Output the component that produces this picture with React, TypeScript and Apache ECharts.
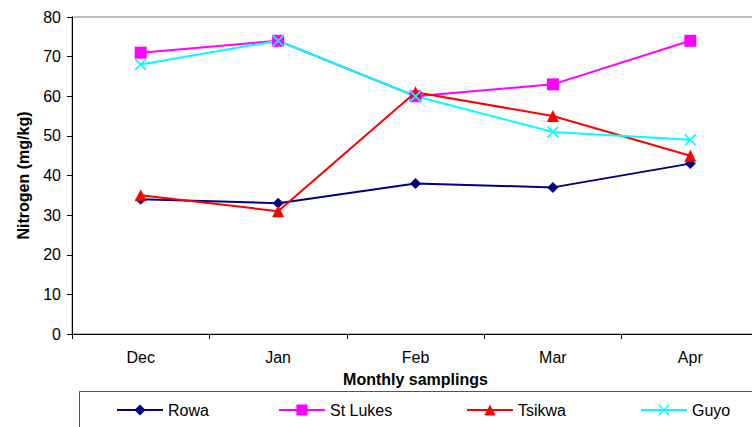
import React, { useEffect, useRef } from "react";
import * as echarts from "echarts";

const categories = ["Dec", "Jan", "Feb", "Mar", "Apr"];
const rowa = [34, 33, 38, 37, 43];
const stLukes = [71, 74, 60, 63, 74];
const tsikwa = [35, 31, 61, 55, 45];
const guyo = [68, 74, 60, 51, 49];
const yTicks = [0, 10, 20, 30, 40, 50, 60, 70, 80];

const FONT = "'Liberation Sans', Arial, sans-serif";
const X_SYMBOL = "path://M0,1 L1,0 L5,4 L9,0 L10,1 L6,5 L10,9 L9,10 L5,6 L1,10 L0,9 L4,5 Z";

export default function App() {
  const ref = useRef<HTMLDivElement>(null);
  useEffect(() => {
    document.body.style.margin = "0";
    const chart = echarts.init(ref.current!, null, { renderer: "svg" });
    const legendItem = (name: string, left: number) => ({
      data: [name],
      left,
      top: 402,
      itemWidth: 46,
      itemHeight: 14,
      itemGap: 4,
      textStyle: { fontFamily: FONT, fontSize: 16, color: "#000" },
      padding: 0,
    });
    chart.setOption({
      animation: false,
      textStyle: { fontFamily: FONT },
      grid: {
        left: 72,
        width: 687,
        top: 17,
        height: 317,
        outerBoundsMode: "none",
        containLabel: false,
        show: true,
        borderColor: "#808080",
        borderWidth: 1,
        backgroundColor: "transparent",
      },
      graphic: [
        {
          type: "rect",
          shape: { x: 79.5, y: 391.5, width: 700, height: 60 },
          style: { fill: "none", stroke: "#555", lineWidth: 1 },
          z: -1,
        },
      ],
      legend: [
        legendItem("Rowa", 116),
        legendItem("St Lukes", 278),
        legendItem("Tsikwa", 466),
        legendItem("Guyo", 640),
      ],
      xAxis: {
        type: "category",
        data: categories,
        boundaryGap: true,
        name: "Monthly samplings",
        nameLocation: "middle",
        nameGap: 37,
        nameTextStyle: { fontFamily: FONT, fontSize: 16, fontWeight: "bold", color: "#000" },
        axisLine: { lineStyle: { color: "#000", width: 1 } },
        axisTick: { show: true, length: 5, lineStyle: { color: "#000" } },
        axisLabel: { margin: 15, fontFamily: FONT, fontSize: 16, color: "#000" },
        splitLine: { show: false },
      },
      yAxis: {
        type: "value",
        min: 0,
        max: 80,
        interval: 10,
        name: "Nitrogen (mg/kg)",
        nameLocation: "middle",
        nameGap: 41,
        nameTextStyle: { fontFamily: FONT, fontSize: 16, fontWeight: "bold", color: "#000" },
        axisLine: { show: true, lineStyle: { color: "#000", width: 1 } },
        axisTick: { show: true, length: 5, lineStyle: { color: "#000" } },
        axisLabel: {
          margin: 11,
          fontFamily: FONT,
          fontSize: 16,
          color: "#000",
          formatter: (v: number) => (yTicks.includes(v) ? String(v) : ""),
        },
        splitLine: { show: false },
      },
      series: [
        {
          name: "Rowa",
          type: "line",
          data: rowa,
          symbol: "diamond",
          symbolSize: 11,
          lineStyle: { color: "#000080", width: 2 },
          itemStyle: { color: "#000080" },
        },
        {
          name: "St Lukes",
          type: "line",
          data: stLukes,
          symbol: "rect",
          symbolSize: 12,
          lineStyle: { color: "#FF00FF", width: 2 },
          itemStyle: { color: "#FF00FF" },
        },
        {
          name: "Tsikwa",
          type: "line",
          data: tsikwa,
          symbol: "triangle",
          symbolSize: 12,
          lineStyle: { color: "#FF0000", width: 2 },
          itemStyle: { color: "#FF0000" },
        },
        {
          name: "Guyo",
          type: "line",
          data: guyo,
          symbol: X_SYMBOL,
          symbolSize: 12,
          lineStyle: { color: "#00FFFF", width: 2 },
          itemStyle: { color: "#00FFFF" },
        },
      ],
    });
    return () => chart.dispose();
  }, []);
  return (
    <div
      ref={ref}
      style={{ position: "fixed", left: 0, top: 0, width: 752, height: 427, background: "#fff" }}
    />
  );
}
